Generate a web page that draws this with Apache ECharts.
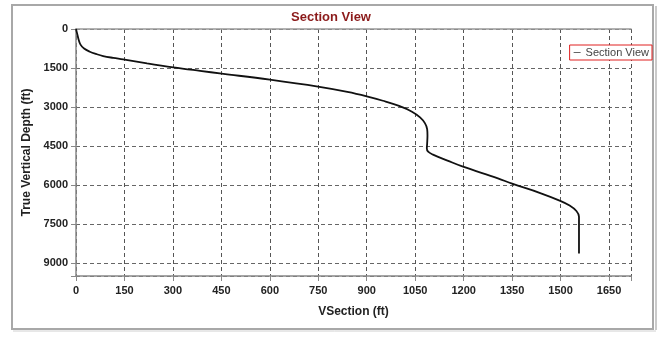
<!DOCTYPE html>
<html><head><meta charset="utf-8">
<script src="https://cdn.jsdelivr.net/npm/echarts@6/dist/echarts.min.js"></script>
<style>html,body{margin:0;padding:0;background:#fff}#c{width:662px;height:339px}</style>
</head><body><div id="c"></div>
<script>
const vsection = [0,3,8,14,25,43,62,84,115,146,220,301,384,451,600,749,840,900,950,1000,1040,1065,1080,1087,1088,1087,1086,1090,1105,1150,1198,1306,1350,1435,1497,1528,1549,1557,1557];
const tvd = [0,150,400,600,750,873,960,1040,1110,1167,1320,1473,1610,1715,1950,2218,2420,2590,2760,2960,3180,3400,3620,3850,4100,4400,4600,4720,4830,5060,5295,5744,5950,6300,6600,6790,7000,7218,8630];
const xTicks = [0,150,300,450,600,750,900,1050,1200,1350,1500,1650];
const yTicks = [0,1500,3000,4500,6000,7500,9000];
const seriesName = 'Section View';

const data = vsection.map((v,i)=>[v,tvd[i]]);
const font = '"Liberation Sans", Arial, sans-serif';
const chart = echarts.init(document.getElementById('c'));
chart.setOption({
  animation:false,
  title:{text:'Section View',left:'center',top:6,textStyle:{color:'#8b1a1a',fontWeight:'bold',fontSize:13,fontFamily:font}},
  legend:{data:[seriesName],right:10,top:45,orient:'vertical',borderColor:'#e02020',borderWidth:1,padding:[2,3,2,4],
    icon:'rect',itemWidth:7,itemHeight:1,itemGap:4,backgroundColor:'#fff',
    textStyle:{color:'#444',fontSize:11,fontFamily:font}},
  grid:{left:76,top:29,right:31,bottom:63,containLabel:false},
  xAxis:[{type:'value',min:0,max:1718,interval:150,position:'bottom',
    name:'VSection (ft)',nameLocation:'middle',nameGap:30,
    nameTextStyle:{fontWeight:'bold',fontSize:12,color:'#222',fontFamily:font},
    axisLine:{onZero:false,lineStyle:{color:'#888',width:1.5}},
    axisTick:{show:true,length:5,lineStyle:{color:'#888'}},
    axisLabel:{fontWeight:'bold',fontSize:11,color:'#222',fontFamily:font,margin:9,
      formatter:v=>xTicks.includes(v)?String(v):''},
    splitLine:{show:true,lineStyle:{type:[4,3],color:'#555',width:1}}},
    {type:'value',min:0,max:1718,position:'top',axisLine:{show:true,onZero:false,lineStyle:{color:'#999',width:1.5}},
    axisTick:{show:false},axisLabel:{show:false},splitLine:{show:false}}],
  yAxis:{type:'value',inverse:true,min:0,max:9500,interval:1500,
    name:'True Vertical Depth (ft)',nameLocation:'middle',nameGap:37,
    nameTextStyle:{fontWeight:'bold',fontSize:12,color:'#222',fontFamily:font},
    axisLine:{show:true,onZero:false,lineStyle:{color:'#888',width:1.5}},
    axisTick:{show:true,length:5,lineStyle:{color:'#888'}},
    axisLabel:{fontWeight:'bold',fontSize:11,color:'#222',fontFamily:font,margin:8,
      formatter:v=>yTicks.includes(v)?String(v):''},
    splitLine:{show:true,lineStyle:{type:[4,3],color:'#666',width:1}}},
  series:[{name:seriesName,type:'line',data:data,showSymbol:false,smooth:0.4,
    lineStyle:{color:'#111',width:1.8},itemStyle:{color:'#666'}}],
  graphic:[
    {type:'rect',shape:{x:12,y:5,width:641,height:324},style:{fill:'none',stroke:'#a8a8a8',lineWidth:2},silent:true},
    {type:'line',shape:{x1:656,y1:6,x2:656,y2:330},style:{stroke:'#b8b8b8',lineWidth:1.5},silent:true},
    {type:'line',shape:{x1:13,y1:331,x2:656,y2:331},style:{stroke:'#d0d0d0',lineWidth:1},silent:true}
  ]
});
</script></body></html>
